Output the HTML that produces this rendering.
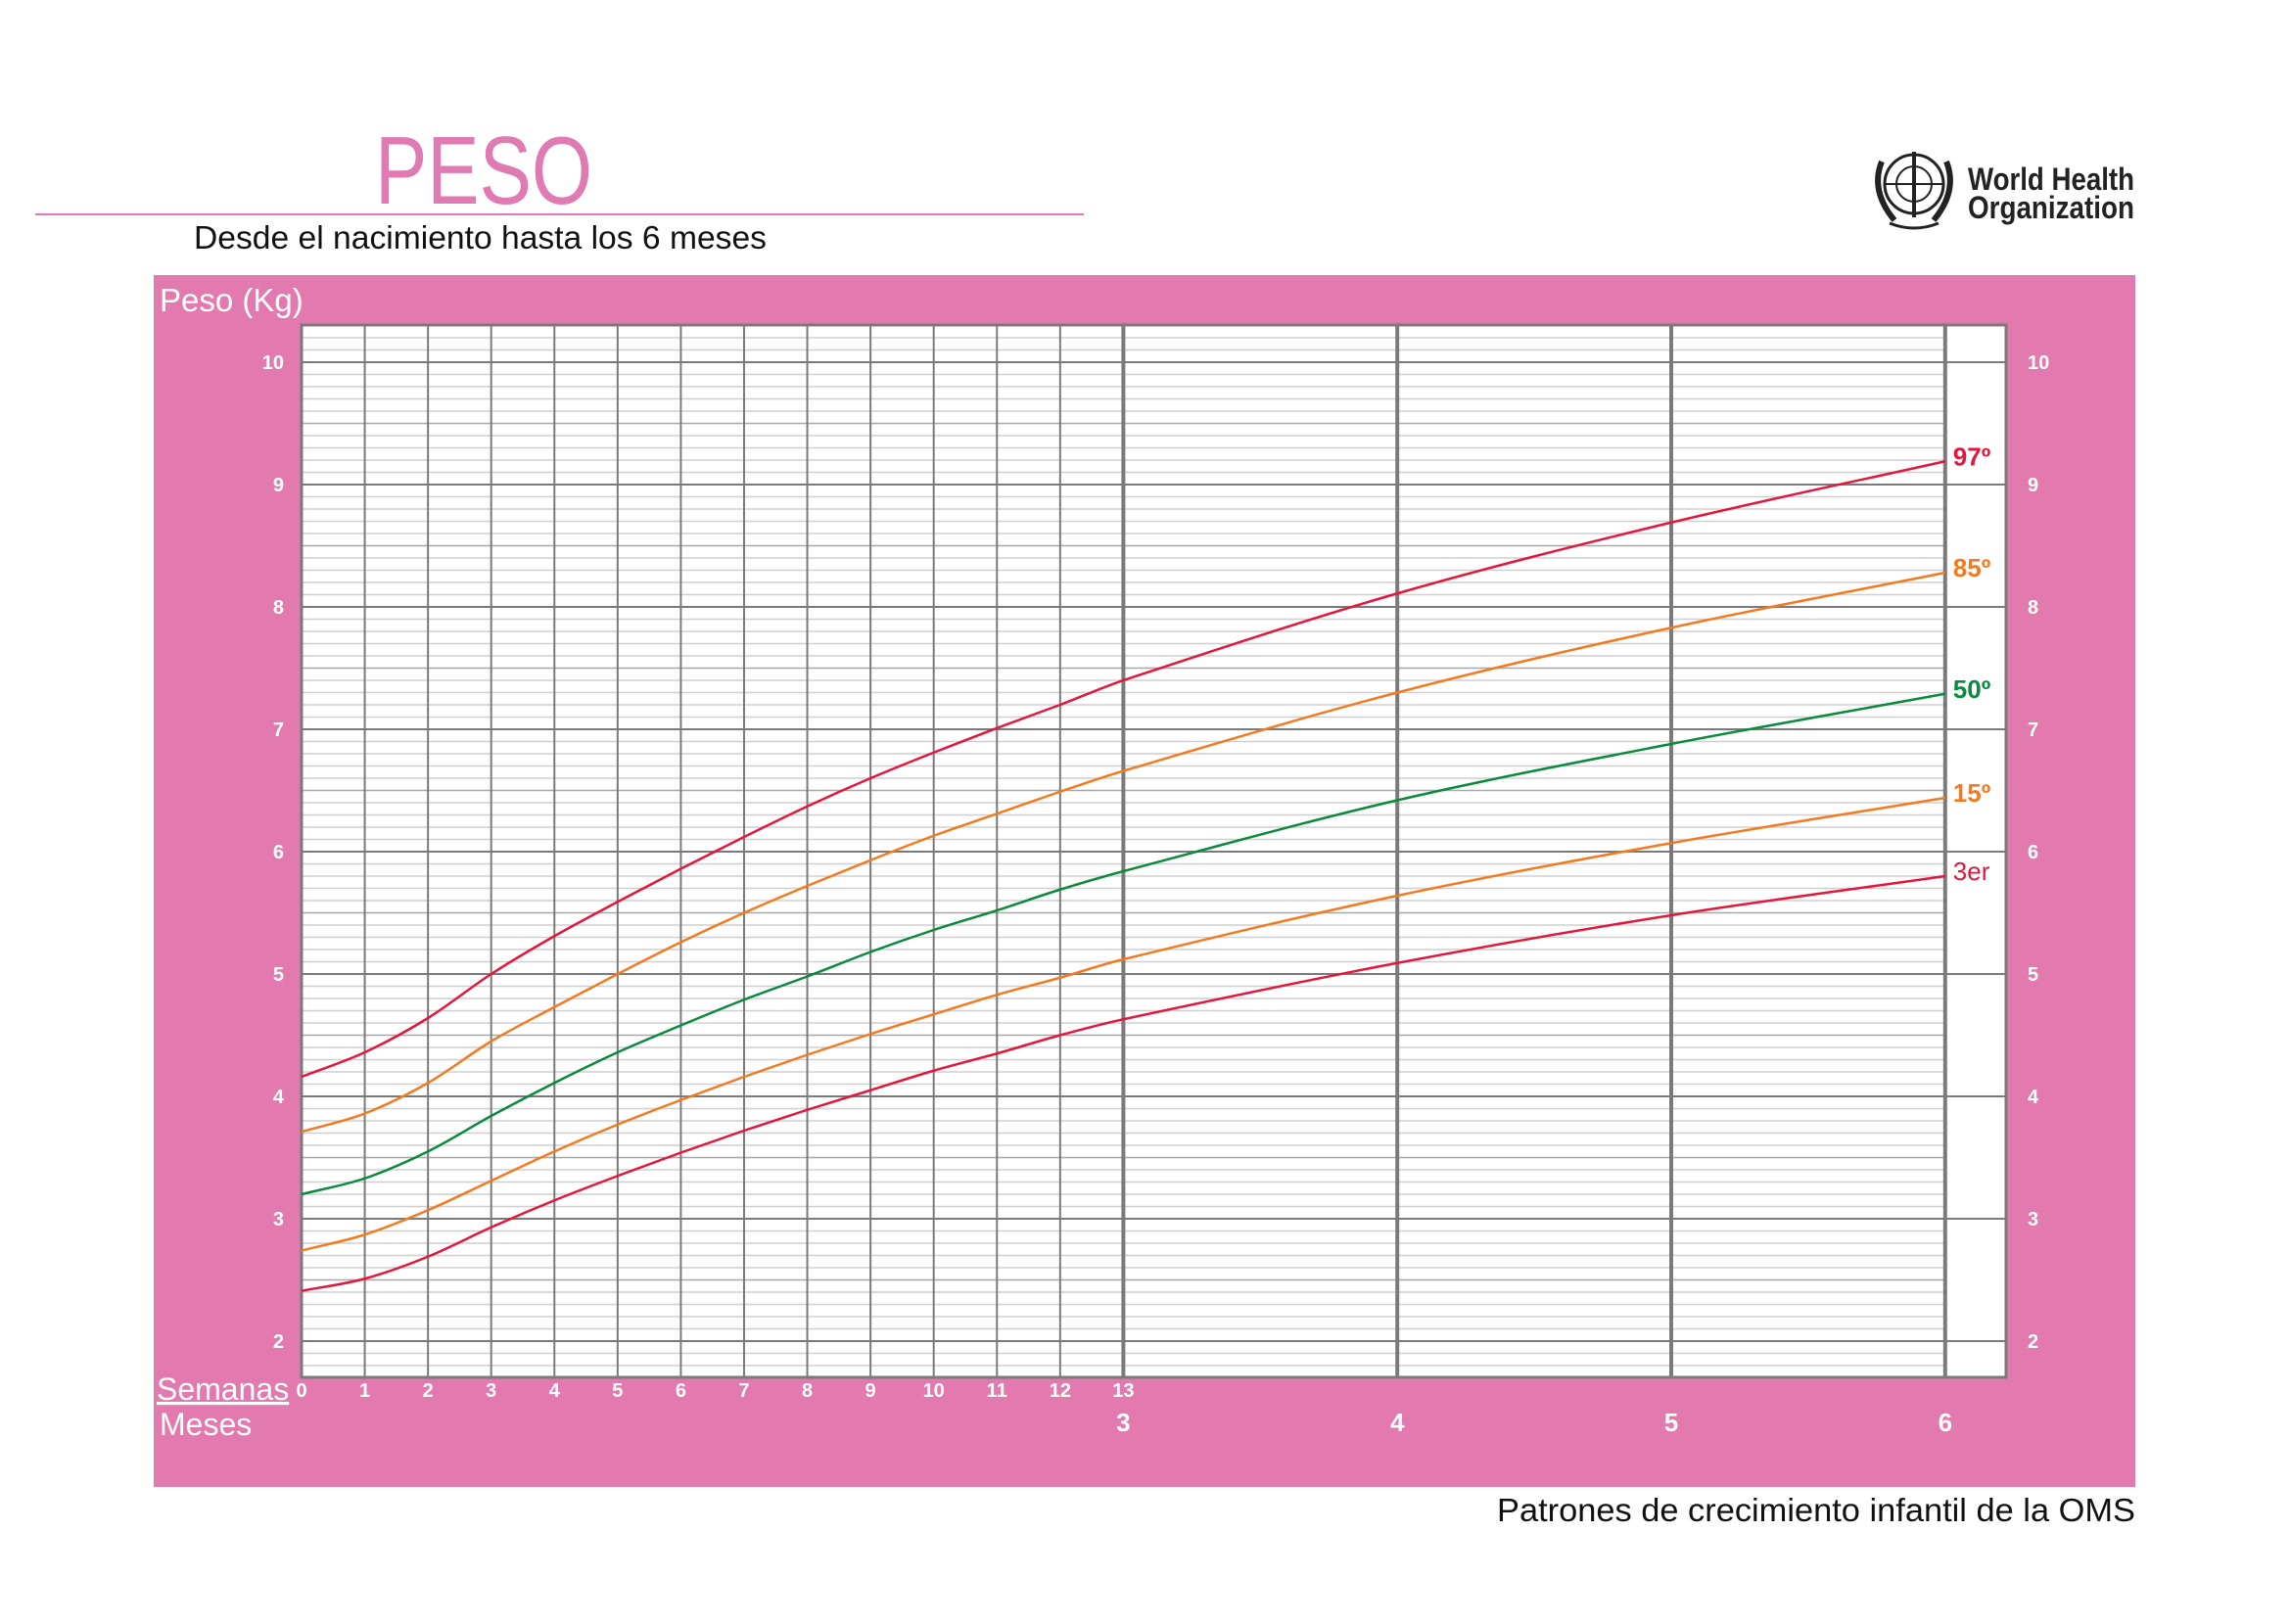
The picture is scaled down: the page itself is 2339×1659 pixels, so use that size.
<!DOCTYPE html>
<html><head><meta charset="utf-8"><style>
html,body{margin:0;padding:0;background:#fff;}
body{width:2339px;height:1654px;position:relative;overflow:hidden;font-family:"Liberation Sans",sans-serif;}
</style></head><body>
<svg id="chart" width="2339" height="1654" viewBox="0 0 2339 1654" xmlns="http://www.w3.org/2000/svg">
<text x="383" y="208" font-size="98" textLength="222" lengthAdjust="spacingAndGlyphs" fill="#e07ab2">PESO</text>
<line x1="36" y1="219" x2="1107" y2="219" stroke="#e07ab2" stroke-width="2"/>
<text x="198" y="254" font-size="33" textLength="585" lengthAdjust="spacingAndGlyphs" fill="#111">Desde el nacimiento hasta los 6 meses</text>
<g>
<circle cx="1955" cy="188" r="30" fill="none" stroke="#222" stroke-width="3"/>
<circle cx="1955" cy="188" r="18" fill="none" stroke="#222" stroke-width="2"/>
<line x1="1925" y1="188" x2="1985" y2="188" stroke="#222" stroke-width="2"/>
<line x1="1955" y1="155" x2="1955" y2="222" stroke="#222" stroke-width="4"/>
<path d="M1922 165 Q1910 195 1935 225 M1988 165 Q2000 195 1975 225" fill="none" stroke="#222" stroke-width="6"/>
<path d="M1930 228 Q1955 238 1980 228" fill="none" stroke="#222" stroke-width="3"/>
</g>
<text x="2010" y="194" font-size="32" font-weight="bold" textLength="170" lengthAdjust="spacingAndGlyphs" fill="#222">World Health</text>
<text x="2010" y="223" font-size="32" font-weight="bold" textLength="170" lengthAdjust="spacingAndGlyphs" fill="#222">Organization</text>
<rect x="157" y="281" width="2024" height="1238" fill="#e27aaf"/>
<rect x="308" y="332" width="1741" height="1075" fill="#fff"/>
<text x="163" y="318" font-size="33" fill="#fff">Peso (Kg)</text>
<text x="160" y="1430" font-size="32" fill="#fff" text-decoration="underline">Semanas</text>
<text x="163" y="1466" font-size="32" fill="#fff">Meses</text>
<g id="grid"></g>
<g id="series"></g>
<g id="labels"></g>
<text x="2181" y="1554" font-size="33" textLength="652" lengthAdjust="spacingAndGlyphs" fill="#111" text-anchor="end">Patrones de crecimiento infantil de la OMS</text>
</svg>
<script>
const weekTicks = [0,1,2,3,4,5,6,7,8,9,10,11,12,13];
const monthTicks = [3,4,5,6];
const yTicks = [2,3,4,5,6,7,8,9,10];
const ages = [0,1,2,3,4,5,6,7,8,9,10,11,12,13,'m4','m5','m6'];
const p97 = [4.16,4.36,4.64,5.0,5.31,5.59,5.86,6.12,6.37,6.6,6.81,7.01,7.2,7.4,8.11,8.69,9.19];
const p85 = [3.71,3.86,4.11,4.45,4.73,5.0,5.26,5.5,5.72,5.93,6.13,6.31,6.49,6.66,7.3,7.83,8.28];
const p50 = [3.2,3.33,3.55,3.84,4.11,4.36,4.58,4.79,4.98,5.18,5.36,5.52,5.69,5.84,6.42,6.88,7.29];
const p15 = [2.74,2.87,3.07,3.31,3.55,3.77,3.97,4.16,4.34,4.51,4.67,4.83,4.97,5.12,5.64,6.07,6.44];
const p3  = [2.41,2.51,2.69,2.93,3.15,3.35,3.54,3.72,3.89,4.05,4.21,4.35,4.5,4.63,5.09,5.48,5.8];
const seriesNames = ['97º','85º','50º','15º','3er'];

const NS='http://www.w3.org/2000/svg';
const X0=308, MPX=279.8, PR=2049, PT=332, PB=1407;
function xMonth(m){return X0+m*MPX;}
function xWeek(w){return X0+w*(3*MPX/13);}
function xAge(a){return typeof a==='string'?xMonth(+a.slice(1)):xWeek(a);}
function yKg(v){return 370+(10-v)*125;}
function mk(tag,attrs,parent){const e=document.createElementNS(NS,tag);for(const k in attrs)e.setAttribute(k,attrs[k]);parent.appendChild(e);return e;}
const grid=document.getElementById('grid'), ser=document.getElementById('series'), lab=document.getElementById('labels');
const xEnd=xMonth(6);
for(let i=17;i<=103;i++){
  const v=i/10, y=yKg(v);
  if(y<PT||y>PB) continue;
  const major=i%10===0, half=i%5===0;
  const l=mk('line',{x1:X0,x2:major?PR:xEnd,y1:y,y2:y,stroke:major?'#7a7a7a':(half?'#a8a8a8':'#cfcfcf'),'stroke-width':major?2:1.5},grid);
  
  
}
weekTicks.forEach(w=>{
  const x=xWeek(w);
  const l=mk('line',{x1:x,x2:x,y1:PT,y2:PB,stroke:'#7a7a7a','stroke-width':w===13?3:2},grid);
  
  
  const t=mk('text',{x:x,y:1427,'font-size':20,'font-weight':'bold',fill:'#fff','text-anchor':'middle'},lab);
  t.textContent=w;
  
  
});
monthTicks.forEach(m=>{
  const x=xMonth(m);
  const l=mk('line',{x1:x,x2:x,y1:PT,y2:PB,stroke:'#7a7a7a','stroke-width':4},grid);
  
  
  const t=mk('text',{x:x,y:1462,'font-size':26,'font-weight':'bold',fill:'#fff','text-anchor':'middle'},lab);
  t.textContent=m;
  
  
});
const border=mk('rect',{x:X0,y:PT,width:PR-X0,height:PB-PT,fill:'none',stroke:'#7a7a7a','stroke-width':3},grid);


yTicks.forEach(v=>{
  const y=yKg(v);
  const a=mk('text',{x:290,y:y+7,'font-size':20,'font-weight':'bold',fill:'#fff','text-anchor':'end'},lab);
  a.textContent=v;
  
  
  const b=mk('text',{x:PR+22,y:y+7,'font-size':20,'font-weight':'bold',fill:'#fff'},lab);
  b.textContent=v;
  
  
});
const allSeries=[p97,p85,p50,p15,p3];
const colors=['#e3173e','#f47a20','#0a8a3c','#f47a20','#e3173e'];
const keys=['p97','p85','p50','p15','p3'];
allSeries.forEach((s,i)=>{
  const pts=s.map((v,j)=>[xAge(ages[j]),yKg(v)]);
  const n=pts.length;
  const sl=pts.map((p,j)=>{
    const a=pts[Math.max(0,j-1)], b=pts[Math.min(n-1,j+1)];
    return (b[1]-a[1])/(b[0]-a[0]);
  });
  let d='M'+pts[0][0]+' '+pts[0][1];
  for(let j=0;j<n-1;j++){
    const p1=pts[j],p2=pts[j+1],dx=(p2[0]-p1[0])/3;
    d+=` C${p1[0]+dx} ${p1[1]+sl[j]*dx} ${p2[0]-dx} ${p2[1]-sl[j+1]*dx} ${p2[0]} ${p2[1]}`;
  }
  const p=mk('path',{d:d,fill:'none',stroke:colors[i],'stroke-width':2.5},ser);
  
  
  const last=pts[n-1];
  const t=mk('text',{x:xEnd+8,y:last[1]+4,'font-size':26,'font-weight':i===4?'normal':'bold',fill:colors[i]},lab);
  t.textContent=seriesNames[i];
  
  
});
</script>
</body></html>
